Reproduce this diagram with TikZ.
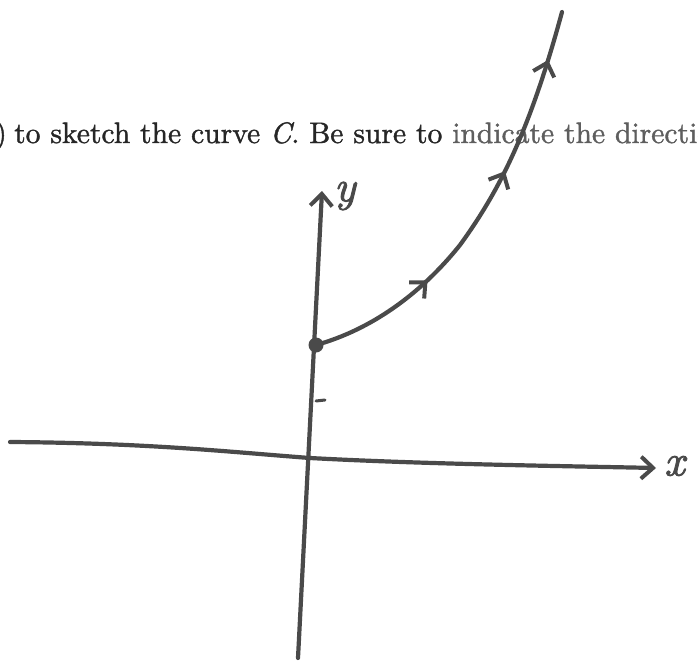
\documentclass[tikz,border=0pt]{standalone}
\usepackage{fontspec}
\newfontfamily\qfont{lmroman10-regular.otf}[FakeBold=1.3]
\newfontfamily\qifont{lmroman10-italic.otf}[FakeBold=1.3]
\newfontfamily\handfont{lmroman10-italic.otf}[FakeBold=2]
\usetikzlibrary{arrows.meta,decorations.markings}
\definecolor{ink}{HTML}{4A4A4A}
\definecolor{txtdark}{HTML}{262626}
\definecolor{txtgray}{HTML}{5E5E5E}
\tikzset{
  pen/.style={draw=ink, line width=4.2pt, line cap=round, line join=round},
  barb/.style={-{Straight Barb[length=12pt,width=22pt,line width=4pt]}},
  qtext/.style={font=\qfont\fontsize{29.6}{34}\selectfont, text=txtdark, inner sep=0pt},
  hand/.style={font=\handfont\fontsize{44}{48}\selectfont, text=ink, inner sep=0pt},
}
\begin{document}
\begin{tikzpicture}[x=1pt,y=-1pt]
\useasboundingbox (0,0) rectangle (698,661);
\clip (0,0) rectangle (698,661);
% question text
\node[qtext, anchor=base east] (paren) at (7,143) {)};
\node[qtext, anchor=base west] (txt) at (14,143) {to sketch the curve {\qifont C}. Be sure to \textcolor{txtgray}{indicate the direction}};
% axes
\coordinate (xl) at (10,442);
\coordinate (xr) at (656,468);
\coordinate (yb) at (298,658);
\coordinate (yt) at (322,191);
\draw[pen, barb] (xl) .. controls (150,443) and (230,452) .. (310,458) .. controls (420,464) and (560,466) .. (xr);
\draw[pen, barb] (yb) -- (yt);
\node[hand, anchor=west] (xlab) at (664,466) {x};
\node[hand, anchor=west] (ylab) at (334,196) {y};
% tick
\coordinate (t1) at (316,401);
\coordinate (t2) at (325,400);
\draw[pen, line width=3pt] (t1) -- (t2);
% start point
\node[circle, fill=ink, minimum size=15pt, inner sep=0pt] (P) at (316,345) {};
\coordinate (E) at (562,12);
% curve
\draw[pen, postaction={decorate}, decoration={markings,
   mark=at position 0.30 with {\arrow{Straight Barb[length=12pt,width=22pt,line width=4pt]}},
   mark=at position 0.61 with {\arrow{Straight Barb[length=12pt,width=22pt,line width=4pt]}},
   mark=at position 0.885 with {\arrow{Straight Barb[length=12pt,width=22pt,line width=4pt]}}}]
  (P.center) .. controls (370,330) and (420,295) .. (460,245)
  .. controls (500,190) and (530,130) .. (E);
\end{tikzpicture}
\end{document}
